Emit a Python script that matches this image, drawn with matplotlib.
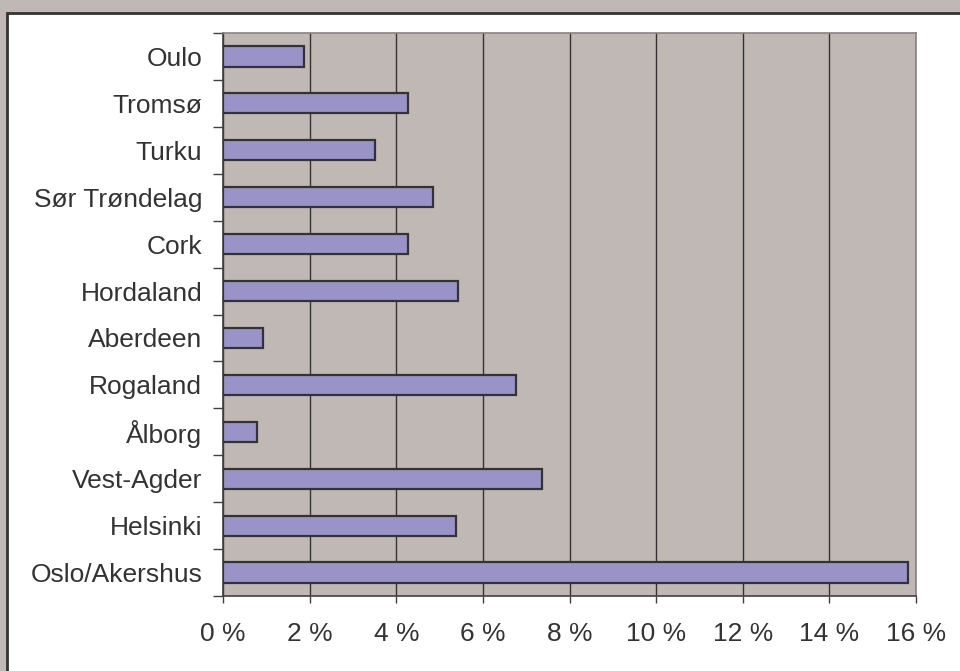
import matplotlib
matplotlib.use("Agg")
import matplotlib.pyplot as plt
from matplotlib.patches import Rectangle
from matplotlib.ticker import FuncFormatter

regions = ["Oulo", "Tromsø", "Turku", "Sør Trøndelag", "Cork", "Hordaland",
           "Aberdeen", "Rogaland", "Ålborg", "Vest-Agder", "Helsinki", "Oslo/Akershus"]
shares = [1.88, 4.28, 3.50, 4.84, 4.28, 5.43, 0.92, 6.77, 0.78, 7.37, 5.39, 15.81]
xticks = [0, 2, 4, 6, 8, 10, 12, 14, 16]

plt.rcParams['font.family'] = ['Liberation Sans', 'DejaVu Sans']

bg = '#c0b8b4'
fig = plt.figure(figsize=(9.6, 6.71), dpi=100, facecolor=bg)

# white chart area with dark frame (drawn behind the axes)
fig.patches.append(Rectangle((7 / 960, -0.02), 1.05, 1 - 13 / 671 + 0.02,
                             transform=fig.transFigure, facecolor='white',
                             edgecolor='#333333', linewidth=2, zorder=-10))

ax = fig.add_axes([223 / 960, 1 - 596 / 671, (916 - 223) / 960, (596 - 33) / 671])
ax.set_facecolor(bg)

# categories from top to bottom
ypos = list(range(len(regions)))[::-1]
ax.barh(ypos, shares, height=0.43, color='#9993c7', edgecolor='#333333',
        linewidth=1.6, zorder=3)

ax.set_xlim(0, 16)
ax.set_ylim(-0.5, len(regions) - 0.5)
ax.set_xticks(xticks)
ax.xaxis.set_major_formatter(FuncFormatter(lambda v, p: f"{int(v)} %"))
ax.set_yticks(ypos)
ax.set_yticklabels(regions)
ax.set_yticks([y - 0.5 for y in range(len(regions) + 1)], minor=True)

ax.grid(axis='x', color='#333333', linewidth=1, zorder=1)
ax.set_axisbelow(True)

ax.tick_params(axis='y', which='major', length=0, pad=15, labelsize=19,
               labelcolor='#333333')
ax.tick_params(axis='y', which='minor', length=7.2, width=1, color='#404040')
ax.tick_params(axis='x', length=5, width=1, color='#404040', pad=13.5,
               labelsize=19, labelcolor='#333333')

for side in ['left', 'bottom']:
    ax.spines[side].set_color('#404040')
    ax.spines[side].set_linewidth(1.2)
for side in ['top', 'right']:
    ax.spines[side].set_color('#8a8282')
    ax.spines[side].set_linewidth(1.2)

fig.savefig('out.png', dpi=100, facecolor=bg)
